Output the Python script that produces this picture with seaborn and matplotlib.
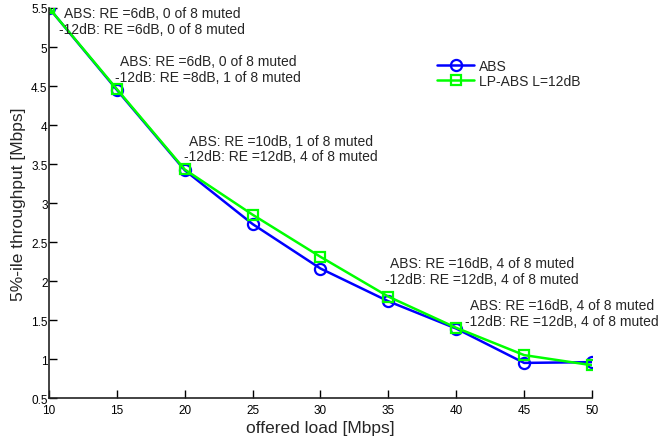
import matplotlib
matplotlib.use("Agg")
import matplotlib.pyplot as plt
import seaborn as sns

# offered load [Mbps]
load = [10, 15, 20, 25, 30, 35, 40, 45, 50]
# 5%-ile throughput [Mbps]
abs_tp = [5.50, 4.45, 3.42, 2.73, 2.16, 1.74, 1.39, 0.95, 0.96]
lpabs_tp = [5.50, 4.46, 3.43, 2.85, 2.31, 1.80, 1.40, 1.05, 0.92]

xticks = [10, 15, 20, 25, 30, 35, 40, 45, 50]
yticks = [0.5, 1, 1.5, 2, 2.5, 3, 3.5, 4, 4.5, 5, 5.5]
ytick_labels = ["0.5", "1", "1.5", "2", "2.5", "3", "3.5", "4", "4.5", "5", "5.5"]

# annotation anchors (data coords) and text
note_x = [17.6, 21.7, 27.1, 41.9, 47.8]
note_y = [5.33, 4.72, 3.70, 2.13, 1.59]
note_text = [
    "ABS: RE =6dB, 0 of 8 muted\n-12dB: RE =6dB, 0 of 8 muted",
    "ABS: RE =6dB, 0 of 8 muted\n-12dB: RE =8dB, 1 of 8 muted",
    "ABS: RE =10dB, 1 of 8 muted\n-12dB: RE =12dB, 4 of 8 muted",
    "ABS: RE =16dB, 4 of 8 muted\n-12dB: RE =12dB, 4 of 8 muted",
    "ABS: RE =16dB, 4 of 8 muted\n-12dB: RE =12dB, 4 of 8 muted",
]

sns.set_style("ticks")
plt.rcParams["font.family"] = ["Liberation Sans", "DejaVu Sans"]

fig = plt.figure(figsize=(6.6, 4.39), dpi=100)
ax = fig.add_axes([0.0742, 0.0911, 0.8228, 0.8884])

sns.lineplot(x=load, y=abs_tp, ax=ax, color="#0000ff", linewidth=1.8,
             marker="o", markersize=8, markerfacecolor="none",
             markeredgecolor="#0000ff", markeredgewidth=1.6, label="ABS")
sns.lineplot(x=load, y=lpabs_tp, ax=ax, color="#00ff00", linewidth=1.8,
             marker="s", markersize=7, markerfacecolor="none",
             markeredgecolor="#00ff00", markeredgewidth=1.6, label="LP-ABS L=12dB")

for x, y, t in zip(note_x, note_y, note_text):
    ax.text(x, y, t, ha="center", va="center", fontsize=10, linespacing=1.15,
            clip_on=False)

ax.set_xlim(10, 50)
ax.set_ylim(0.5, 5.5)
ax.set_xticks(xticks)
ax.set_xticklabels([str(v) for v in xticks])
ax.set_yticks(yticks)
ax.set_yticklabels(ytick_labels)
ax.tick_params(direction="in", length=6, width=1, labelsize=8.5, colors="black")
ax.tick_params(axis="x", pad=4)
ax.tick_params(axis="y", pad=1)

for s in ["top", "right"]:
    ax.spines[s].set_visible(False)
for s in ["left", "bottom"]:
    ax.spines[s].set_linewidth(1.2)
    ax.spines[s].set_color("#222222")

ax.set_xlabel("offered load [Mbps]", fontsize=12.5, labelpad=3)
ax.set_ylabel("5%-ile throughput [Mbps]", fontsize=12.5, labelpad=4)

ax.legend(loc="upper left", bbox_to_anchor=(0.662, 0.863),
          bbox_transform=fig.transFigure, frameon=False, fontsize=10,
          handlelength=2.7, handletextpad=0.35, borderpad=0,
          borderaxespad=0, labelspacing=0.05)

fig.savefig("out.png", dpi=100)
plt.close(fig)
